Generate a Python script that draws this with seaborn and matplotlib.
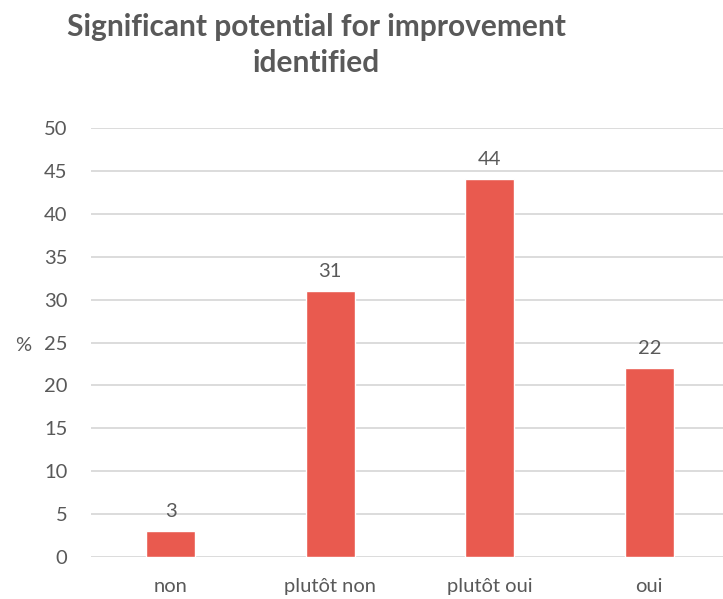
import matplotlib
matplotlib.use("Agg")
import matplotlib.pyplot as plt
import seaborn as sns
import pandas as pd

categories = ["non", "plutôt non", "plutôt oui", "oui"]
values = [3, 31, 44, 22]
yticks = [0, 5, 10, 15, 20, 25, 30, 35, 40, 45, 50]
title = "Significant potential for improvement\nidentified"

sns.set_theme(style="white")
plt.rcParams["font.family"] = ["Lato", "DejaVu Sans"]

text_color = "#595959"
bar_color = "#E95A4F"
grid_color = "#D9D9D9"

df = pd.DataFrame({"category": categories, "value": values})

fig = plt.figure(figsize=(7.23, 5.99), dpi=100)
ax = fig.add_axes([0.1259, 0.0701, 0.8824, 0.7162])

sns.barplot(data=df, x="category", y="value", color=bar_color,
            saturation=1, width=0.31, ax=ax, zorder=3)

ax.set_ylim(0, 50)
ax.set_yticks(yticks)
ax.set_yticklabels([str(t) for t in yticks])
ax.yaxis.grid(True, color=grid_color, linewidth=1.3, zorder=0)
ax.set_axisbelow(True)
for s in ax.spines.values():
    s.set_visible(False)
ax.tick_params(axis="both", length=0, labelsize=14.5, colors=text_color)
ax.tick_params(axis="y", pad=17)
ax.tick_params(axis="x", pad=15)
ax.set_xlabel("")
ax.set_ylabel("%", rotation=0, fontsize=14.5, color=text_color,
              va="center", ha="center")
ax.yaxis.set_label_coords(-0.107, 0.494)

for cont in ax.containers:
    ax.bar_label(cont, labels=[str(v) for v in values], padding=8,
                 fontsize=14.5, color=text_color)

fig.text(0.437, 0.925, title, ha="center", va="center", fontsize=21.5,
         fontweight="bold", color=text_color, linespacing=1.35)

fig.savefig("out.png", dpi=100)
